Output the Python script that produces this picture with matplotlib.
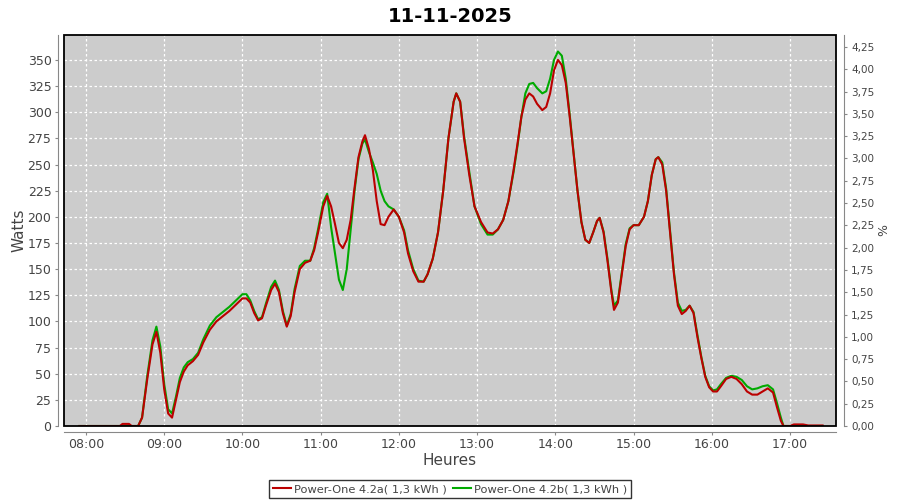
import matplotlib
matplotlib.use("Agg")
import matplotlib.pyplot as plt
from matplotlib.patches import Rectangle
from matplotlib.ticker import FixedLocator, FuncFormatter

title = "11-11-2025"
series_names = ["Power-One 4.2a( 1,3 kWh )", "Power-One 4.2b( 1,3 kWh )"]
series_colors = ["#bb0000", "#00aa00"]

times = ["07:55", "08:00", "08:10", "08:20", "08:26", "08:28", "08:33", "08:35", "08:40", "08:43",
         "08:47", "08:51", "08:54", "08:57", "09:00", "09:03", "09:06", "09:09", "09:12", "09:15",
         "09:18", "09:22", "09:26", "09:30", "09:35", "09:40", "09:45", "09:50", "09:55", "10:00",
         "10:03", "10:06", "10:09", "10:12", "10:15", "10:18", "10:22", "10:25", "10:28", "10:31",
         "10:34", "10:37", "10:40", "10:44", "10:48", "10:52", "10:55", "10:58", "11:02", "11:05",
         "11:08", "11:11", "11:14", "11:17", "11:20", "11:23", "11:26", "11:29", "11:32", "11:34",
         "11:37", "11:40", "11:43", "11:46", "11:49", "11:52", "11:56", "12:00", "12:04", "12:07",
         "12:11", "12:15", "12:19", "12:22", "12:26", "12:30", "12:34", "12:38", "12:42", "12:44",
         "12:47", "12:50", "12:54", "12:58", "13:03", "13:08", "13:12", "13:16", "13:20", "13:24",
         "13:28", "13:31", "13:34", "13:37", "13:40", "13:43", "13:46", "13:50", "13:53", "13:56",
         "13:59", "14:02", "14:05", "14:08", "14:11", "14:14", "14:17", "14:20", "14:23", "14:26",
         "14:29", "14:32", "14:34", "14:37", "14:40", "14:43", "14:45", "14:48", "14:51", "14:54",
         "14:57", "15:00", "15:04", "15:08", "15:11", "15:14", "15:17", "15:19", "15:22", "15:25",
         "15:28", "15:31", "15:34", "15:37", "15:40", "15:43", "15:46", "15:49", "15:52", "15:55",
         "15:58", "16:01", "16:04", "16:07", "16:11", "16:15", "16:19", "16:23", "16:27", "16:31",
         "16:35", "16:39", "16:43", "16:47", "16:50", "16:53", "16:55", "17:00", "17:03", "17:10",
         "17:14", "17:25"]

watts_a = [0, 0, 0, 0, 0, 2, 2, 0, 0, 8,
           45, 78, 90, 70, 35, 12, 8, 25, 42, 52,
           58, 62, 68, 80, 92, 100, 105, 110, 116, 122,
           122, 118, 108, 101, 103, 115, 130, 136, 128, 108,
           95, 105, 128, 150, 156, 158, 168, 185, 210, 220,
           210, 193, 175, 170, 178, 197, 228, 257, 272, 278,
           265, 245, 215, 193, 192, 200, 207, 200, 185, 165,
           148, 138, 138, 145, 160, 185, 225, 275, 310, 318,
           310, 275, 240, 210, 195, 185, 184, 188, 197, 215,
           245, 270, 296, 312, 318, 315, 308, 302, 305, 318,
           340, 350, 345, 328, 296, 260, 225, 195, 178, 175,
           185, 196, 199, 185, 158, 128, 111, 118, 145, 172,
           188, 192, 192, 200, 215, 240, 255, 257, 250, 225,
           185, 145, 115, 107, 110, 115, 108, 85, 65, 47,
           37, 33, 33, 38, 45, 47, 45, 40, 33, 30,
           30, 33, 36, 32, 18, 5, 0, 0, 1.5, 1.5,
           0.5, 0.5]

watts_b = [0, 0, 0, 0, 0, 0, 0, 0, 0, 8,
           48, 82, 95, 76, 40, 16, 12, 28, 46, 56,
           61, 64, 70, 83, 96, 104, 109, 114, 120, 126,
           126, 120, 110, 102, 104, 117, 133, 139, 130, 110,
           96, 107, 131, 153, 158, 158, 170, 188, 214, 222,
           190, 165, 140, 130, 150, 187, 225, 255, 270, 274,
           262, 252, 241, 225, 215, 210, 207, 200, 187, 168,
           150, 139, 138, 145, 160, 185, 225, 275, 310, 318,
           310, 277, 243, 210, 193, 183, 183, 188, 197, 215,
           243, 268, 296, 318, 327, 328, 323, 318, 320, 332,
           350, 358, 354, 332, 298, 262, 225, 195, 178, 175,
           185, 196, 199, 186, 160, 130, 115, 120, 147, 174,
           189, 192, 192, 200, 215, 240, 255, 257, 252, 227,
           187, 147, 118, 110, 111, 115, 109, 87, 66, 48,
           38, 34, 35, 40, 46, 48, 47, 44, 38, 35,
           36, 38, 39, 35, 22, 8, 0, 0, 0, 0,
           0, 0]

hour_ticks = ["08:00", "09:00", "10:00", "11:00", "12:00", "13:00", "14:00", "15:00", "16:00", "17:00"]


def to_h(s):
    h, m = s.split(":")
    return int(h) + int(m) / 60.0


x = [to_h(t) for t in times]
xt = [to_h(t) for t in hour_ticks]

plt.rcParams['font.family'] = ['DejaVu Sans']
fig = plt.figure(figsize=(9, 5), dpi=100)
ax = fig.add_axes([64 / 900, 74 / 500, 772 / 900, 391 / 500])
ax.set_facecolor("#cccccc")

xmin = 8 - 22 / 78.2
xmax = 17 + 46 / 78.2
ymax = 391 / 1.046
ax.set_xlim(xmin, xmax)
ax.set_ylim(0, ymax)

ax.plot(x, watts_b, color=series_colors[1], lw=1.5, label=series_names[1], zorder=3)
ax.plot(x, watts_a, color=series_colors[0], lw=1.5, label=series_names[0], zorder=4)

ax.xaxis.set_major_locator(FixedLocator(xt))
ax.set_xticklabels(hour_ticks)
ax.yaxis.set_major_locator(FixedLocator(list(range(0, 351, 25))))
ax.grid(True, color="white", linestyle=(0, (2, 2)), linewidth=0.9)
ax.set_axisbelow(True)

for s in ["top", "right"]:
    ax.spines[s].set_visible(False)
ax.spines["left"].set_position(("outward", 4))
ax.spines["bottom"].set_position(("outward", 4))
for s in ["left", "bottom"]:
    ax.spines[s].set_color("#888888")
ax.tick_params(axis="both", colors="#888888", labelcolor="#444444", labelsize=9, length=2.5, pad=2.5)
ax.add_patch(Rectangle((0, 0), 1, 1, transform=ax.transAxes, fill=False,
                       edgecolor="black", linewidth=1.3, zorder=10, clip_on=False))

ax.set_ylabel("Watts", fontsize=11, color="#444444", labelpad=1)
ax.set_xlabel("Heures", fontsize=11, color="#444444", labelpad=1)

ax2 = ax.twinx()
ax2.set_ylim(0, 391 / (379 / 4.25))
ax2.yaxis.set_major_locator(FixedLocator([i * 0.25 for i in range(18)]))
ax2.yaxis.set_major_formatter(FuncFormatter(lambda v, p: f"{v:.2f}".replace(".", ",")))
for s in ["top", "left", "bottom"]:
    ax2.spines[s].set_visible(False)
ax2.spines["right"].set_position(("outward", 6))
ax2.spines["right"].set_color("#888888")
ax2.tick_params(axis="y", colors="#888888", labelcolor="#444444", labelsize=7.5, length=2.5, pad=2.5)
ax2.set_ylabel("%", fontsize=9, color="#444444", labelpad=2)

fig.suptitle(title, fontsize=14, fontweight="bold", y=0.985)

h, l = ax.get_legend_handles_labels()
leg = fig.legend(h[::-1], l[::-1], loc="lower center", bbox_to_anchor=(0.5, 0.004), ncol=2,
                 fontsize=8.2, frameon=True, fancybox=False, handlelength=1.6,
                 handletextpad=0.3, columnspacing=0.5, borderpad=0.35, borderaxespad=0.0)
leg.get_frame().set_edgecolor("black")
leg.get_frame().set_linewidth(1.0)
for t in leg.get_texts():
    t.set_color("#444444")

fig.savefig("out.png", dpi=100)
